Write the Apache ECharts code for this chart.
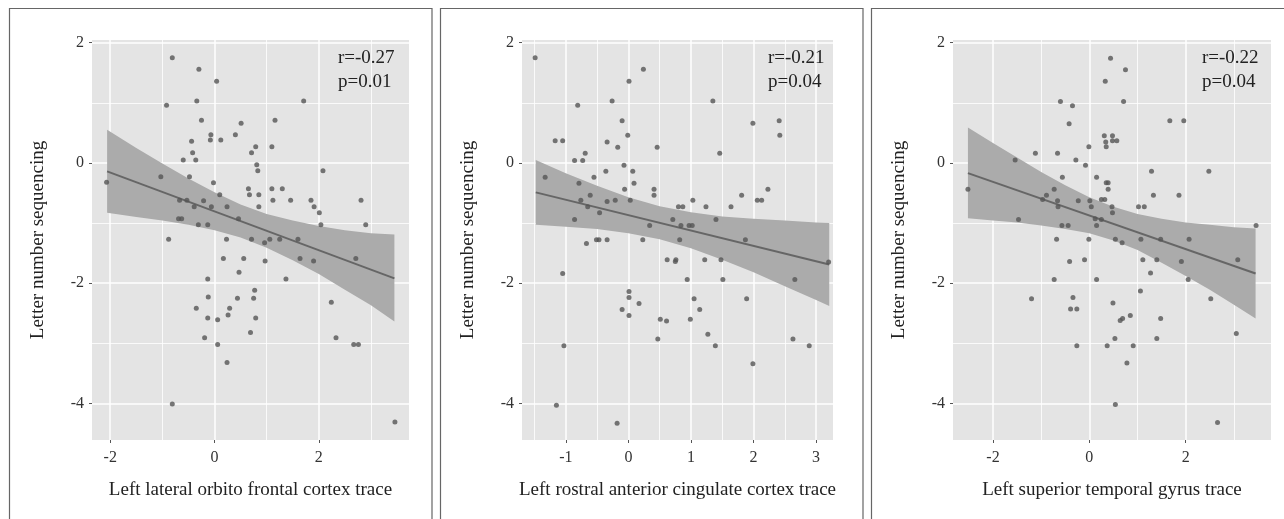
<!DOCTYPE html>
<html>
<head>
<meta charset="utf-8">
<script src="https://cdn.jsdelivr.net/npm/echarts@6/dist/echarts.min.js"></script>
<style>
	html,body{margin:0;padding:0;background:#fff;}
	#chart{width:1284px;height:519px;}
</style>
</head>
<body>
<div id="chart"></div>
<script>
	// ---- data ----
	var xTitles = ['Left lateral orbito frontal cortex trace', 'Left rostral anterior cingulate cortex trace', 'Left superior temporal gyrus trace'];
	var yTitle = 'Letter number sequencing';
	var statR = ['r=-0.27', 'r=-0.21', 'r=-0.22'];
	var statP = ['p=0.01', 'p=0.04', 'p=0.04'];

	// axis ranges and tick values
	var xRange1 = [-2.35, 3.73], xRange2 = [-1.70, 3.27], xRange3 = [-2.83, 3.77];
	var yRange = [-4.61, 2.045];
	var xMajor1 = [-2, 0, 2], xMinor1 = [-1, 1, 3];
	var xMajor2 = [-1, 0, 1, 2, 3], xMinor2 = [-1.5, -0.5, 0.5, 1.5, 2.5];
	var xMajor3 = [-2, 0, 2], xMinor3 = [-1, 1, 3];
	var yMajor = [-4, -2, 0, 2], yMinor = [-3, -1, 1];

	// panel 1: orbito frontal
	var ofcX = [-2.07,-0.81,-0.30,0.04,-0.92,-0.34,1.71,-0.25,0.51,1.16,-0.07,-0.08,0.12,0.40,-0.44,0.79,1.10,-0.42,0.71,-0.60,-0.36,0.81,0.83,2.08,-1.03,-0.48,-0.02,0.10,0.65,0.67,0.85,1.10,1.30,-0.67,-0.53,-0.21,1.12,1.46,1.85,2.81,-0.39,-0.06,0.24,0.85,1.91,2.01,-0.69,-0.63,0.46,-0.31,-0.13,2.04,2.90,-0.88,0.23,0.71,1.06,1.25,1.60,0.96,
		0.17,0.56,0.97,1.64,1.90,2.71,0.47,-0.13,1.37,0.77,-0.12,0.44,0.75,2.24,-0.35,0.29,0.26,-0.13,0.06,0.79,0.69,-0.19,2.33,0.06,2.67,2.76,0.24,-0.81,3.46];
	var ofcY = [-0.32,1.75,1.56,1.36,0.96,1.03,1.03,0.71,0.66,0.71,0.47,0.38,0.38,0.47,0.36,0.27,0.27,0.17,0.17,0.05,0.05,-0.03,-0.13,-0.13,-0.23,-0.23,-0.33,-0.53,-0.43,-0.53,-0.53,-0.43,-0.43,-0.62,-0.62,-0.63,-0.62,-0.62,-0.62,-0.62,-0.73,-0.73,-0.73,-0.73,-0.73,-0.83,-0.93,-0.93,-0.93,-1.03,-1.03,-1.03,-1.03,-1.27,-1.27,-1.27,-1.27,-1.27,-1.27,-1.33,
		-1.59,-1.59,-1.63,-1.59,-1.63,-1.59,-1.82,-1.93,-1.93,-2.12,-2.23,-2.25,-2.25,-2.32,-2.42,-2.42,-2.53,-2.58,-2.61,-2.58,-2.82,-2.91,-2.91,-3.02,-3.02,-3.02,-3.32,-4.01,-4.31];
	var ofcLineX = [-2.06, 3.45], ofcLineY = [-0.14, -1.92];
	var ofcBandX = [-2.06,-1.5,-1,-0.5,0,0.5,1,1.5,2,2.5,3,3.45];
	var ofcBandHi = [0.55,0.25,-0.01,-0.26,-0.49,-0.69,-0.85,-0.96,-1.05,-1.12,-1.17,-1.19];
	var ofcBandLo = [-0.83,-0.90,-0.96,-1.03,-1.12,-1.24,-1.41,-1.62,-1.85,-2.11,-2.37,-2.64];

	// panel 2: rostral anterior cingulate
	var racX = [-1.49,0.24,0.01,-0.81,-0.26,1.35,-0.10,1.99,2.41,2.42,-0.01,-1.17,-1.05,-0.34,-0.17,0.46,-0.69,1.46,-0.86,-0.73,-0.07,-0.36,0.07,-1.33,-0.55,-0.79,0.09,-0.06,0.41,0.41,-0.61,1.81,2.23,-0.76,-0.34,-0.21,0.03,1.03,2.06,2.13,-0.65,0.80,0.87,1.24,1.64,-0.46,-0.86,0.71,1.40,0.34,0.84,0.97,1.02,-0.67,-0.51,-0.47,-0.34,0.23,0.82,1.87,
		0.62,0.76,0.75,1.22,1.48,3.20,-1.05,0.94,1.51,2.66,0.01,0.01,0.17,1.05,1.89,-0.10,1.14,0.01,0.51,0.61,0.99,1.27,0.47,2.63,-1.03,1.39,2.89,1.99,-1.15,-0.18];
	var racY = [1.75,1.56,1.36,0.96,1.03,1.03,0.70,0.66,0.70,0.46,0.46,0.37,0.37,0.35,0.26,0.26,0.16,0.16,0.04,0.04,-0.04,-0.14,-0.14,-0.24,-0.24,-0.34,-0.34,-0.44,-0.44,-0.54,-0.54,-0.54,-0.44,-0.62,-0.64,-0.62,-0.62,-0.62,-0.62,-0.62,-0.73,-0.73,-0.73,-0.73,-0.73,-0.83,-0.94,-0.94,-0.94,-1.04,-1.04,-1.04,-1.04,-1.34,-1.28,-1.28,-1.28,-1.28,-1.28,-1.28,
		-1.61,-1.61,-1.64,-1.61,-1.61,-1.65,-1.84,-1.94,-1.94,-1.94,-2.14,-2.24,-2.34,-2.26,-2.26,-2.44,-2.44,-2.54,-2.60,-2.63,-2.60,-2.85,-2.93,-2.93,-3.04,-3.04,-3.04,-3.34,-4.03,-4.33];
	var racLineX = [-1.48, 3.21], racLineY = [-0.49, -1.69];
	var racBandX = [-1.48,-1,-0.5,0,0.5,1,1.5,2,2.5,3,3.21];
	var racBandHi = [0.05,-0.17,-0.38,-0.57,-0.72,-0.82,-0.89,-0.93,-0.96,-0.99,-1.00];
	var racBandLo = [-1.03,-1.06,-1.10,-1.17,-1.27,-1.42,-1.61,-1.82,-2.05,-2.28,-2.38];

	// panel 3: superior temporal
	var stgX = [-2.52,0.44,0.75,0.33,-0.60,-0.35,0.71,-0.42,1.67,1.96,0.31,0.48,0.34,0.48,0.57,-0.01,0.35,-1.12,-0.66,-1.54,-0.28,-0.08,1.29,2.48,-0.56,0.15,0.35,0.39,-0.73,0.39,-0.89,1.33,1.86,-0.97,-0.66,-0.23,0.01,0.25,0.32,-0.65,0.04,0.47,1.02,1.14,0.48,0.12,0.25,-1.47,-0.57,-0.44,0.15,3.46,-0.68,-0.01,0.54,0.68,1.07,1.48,2.07,
		-0.41,-0.10,1.11,1.40,1.91,3.08,1.27,-0.73,0.15,2.05,1.06,-1.20,-0.34,2.52,0.49,-0.39,-0.26,0.85,0.69,0.64,1.48,0.53,1.40,3.05,-0.26,0.37,0.91,0.78,0.54,2.66];
	var stgY = [-0.44,1.74,1.55,1.36,1.02,0.95,1.02,0.65,0.70,0.70,0.45,0.45,0.35,0.37,0.37,0.27,0.27,0.16,0.16,0.05,0.05,-0.04,-0.14,-0.14,-0.24,-0.24,-0.33,-0.33,-0.44,-0.44,-0.54,-0.54,-0.54,-0.61,-0.63,-0.63,-0.63,-0.61,-0.61,-0.73,-0.73,-0.73,-0.73,-0.73,-0.83,-0.93,-0.94,-0.94,-1.04,-1.04,-1.04,-1.04,-1.27,-1.27,-1.27,-1.33,-1.27,-1.27,-1.27,
		-1.64,-1.61,-1.61,-1.61,-1.64,-1.61,-1.83,-1.94,-1.94,-1.94,-2.13,-2.26,-2.24,-2.26,-2.33,-2.43,-2.43,-2.54,-2.59,-2.62,-2.59,-2.92,-2.92,-2.84,-3.04,-3.04,-3.04,-3.33,-4.02,-4.32];
	var stgLineX = [-2.52, 3.45], stgLineY = [-0.17, -1.84];
	var stgBandX = [-2.52,-2,-1.5,-1,-0.5,0,0.5,1,1.5,2,2.5,3,3.45];
	var stgBandHi = [0.59,0.33,0.09,-0.15,-0.37,-0.57,-0.73,-0.85,-0.93,-0.99,-1.03,-1.07,-1.09];
	var stgBandLo = [-0.92,-0.96,-0.99,-1.04,-1.10,-1.17,-1.29,-1.45,-1.66,-1.88,-2.11,-2.36,-2.59];

	// ---- layout ----
	var FONT = "'Liberation Serif','DejaVu Serif',serif";
	var panels = [
		{grid:{left:92, top:40, width:317, height:400}, xr:xRange1, xMaj:xMajor1, xMin:xMinor1, px:ofcX, py:ofcY, lx:ofcLineX, ly:ofcLineY, bx:ofcBandX, bh:ofcBandHi, bl:ofcBandLo, frame:[9.5, 422.5], text:338},
		{grid:{left:522, top:40, width:311, height:400}, xr:xRange2, xMaj:xMajor2, xMin:xMinor2, px:racX, py:racY, lx:racLineX, ly:racLineY, bx:racBandX, bh:racBandHi, bl:racBandLo, frame:[440.5, 422.5], text:768},
		{grid:{left:953, top:40, width:318, height:400}, xr:xRange3, xMaj:xMajor3, xMin:xMinor3, px:stgX, py:stgY, lx:stgLineX, ly:stgLineY, bx:stgBandX, bh:stgBandHi, bl:stgBandLo, frame:[871.5, 500], text:1202}
	];

	function zip(a, b){
		return a.map(function(v, i){ return [v, b[i]]; });
	}

	var grids = [], xAxes = [], yAxes = [], series = [], graphics = [];
	panels.forEach(function(p, i){
		grids.push(Object.assign({show:true, backgroundColor:'#e4e4e4', borderWidth:0}, p.grid));
		//major axis: ticks, labels, white grid lines
		xAxes.push({
			type:'value', gridIndex:i, position:'bottom', min:p.xr[0], max:p.xr[1],
			axisLine:{show:false, onZero:false},
			axisTick:{show:true, length:3, lineStyle:{color:'#555'}, customValues:p.xMaj},
			axisLabel:{color:'#333', fontFamily:FONT, fontSize:16, margin:10, customValues:p.xMaj},
			splitLine:{show:true, lineStyle:{color:'#fff', width:1.5}},
			name:xTitles[i], nameLocation:'middle', nameGap:41,
			nameTextStyle:{color:'#222', fontFamily:FONT, fontSize:19}
		});
		//minor axis: only thin grid lines
		xAxes.push({
			type:'value', gridIndex:i, position:'bottom', min:p.xr[0], max:p.xr[1],
			axisLine:{show:false, onZero:false},
			axisTick:{show:false, customValues:p.xMin},
			axisLabel:{show:false},
			splitLine:{show:true, lineStyle:{color:'#fff', width:0.8}}
		});
		yAxes.push({
			type:'value', gridIndex:i, position:'left', min:yRange[0], max:yRange[1],
			axisLine:{show:false, onZero:false},
			axisTick:{show:true, length:3, lineStyle:{color:'#555'}, customValues:yMajor},
			axisLabel:{color:'#333', fontFamily:FONT, fontSize:16, margin:8, customValues:yMajor},
			splitLine:{show:true, lineStyle:{color:'#fff', width:1.5}},
			name:yTitle, nameLocation:'middle', nameGap:44,
			nameTextStyle:{color:'#222', fontFamily:FONT, fontSize:19}
		});
		yAxes.push({
			type:'value', gridIndex:i, position:'left', min:yRange[0], max:yRange[1],
			axisLine:{show:false, onZero:false},
			axisTick:{show:false, customValues:yMinor},
			axisLabel:{show:false},
			splitLine:{show:true, lineStyle:{color:'#fff', width:0.8}}
		});

		//confidence band
		series.push({
			type:'custom', xAxisIndex:i*2, yAxisIndex:i*2, silent:true, z:2,
			data:[[p.bx[0], p.bh[0]]],
			renderItem:function(params, api){
				var pts = [];
				for(var k=0;k<p.bx.length;k++) pts.push(api.coord([p.bx[k], p.bh[k]]));
				for(var k=p.bx.length-1;k>=0;k--) pts.push(api.coord([p.bx[k], p.bl[k]]));
				return {type:'polygon', shape:{points:pts}, style:{fill:'#ababab'}};
			}
		});
		//fit line
		series.push({
			type:'line', xAxisIndex:i*2, yAxisIndex:i*2, z:3, silent:true,
			data:zip(p.lx, p.ly), showSymbol:false,
			lineStyle:{color:'#666', width:2}
		});
		//points
		series.push({
			type:'scatter', xAxisIndex:i*2, yAxisIndex:i*2, z:4, silent:true,
			data:zip(p.px, p.py), symbolSize:5,
			itemStyle:{color:'#555'}
		});

		//panel frame, open at the bottom
		graphics.push({type:'rect', shape:{x:p.frame[0], y:8.5, width:p.frame[1], height:600}, style:{fill:'none', stroke:'#666', lineWidth:1.2}, z:0});
		graphics.push({type:'text', x:p.text, y:58, style:{text:statR[i], fill:'#222', font:'19px ' + FONT, verticalAlign:'middle'}, z:10});
		graphics.push({type:'text', x:p.text, y:82, style:{text:statP[i], fill:'#222', font:'19px ' + FONT, verticalAlign:'middle'}, z:10});
	});

	var myChart = echarts.init(document.getElementById('chart'));
	myChart.setOption({
		animation:false,
		backgroundColor:'#fff',
		grid:grids,
		xAxis:xAxes,
		yAxis:yAxes,
		series:series,
		graphic:graphics
	});
	//窗口变动，表格刷新
	window.addEventListener('resize', function(){ myChart.resize(); });
</script>
</body>
</html>
